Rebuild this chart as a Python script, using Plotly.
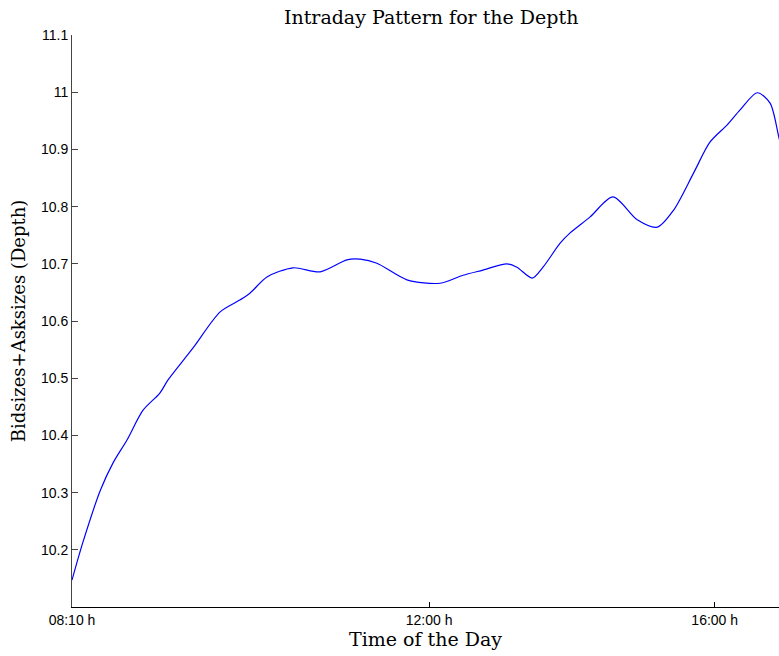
import plotly.graph_objects as go

# sample index (time axis, nonlinear clock mapping handled by tick labels)
x_idx = [0, 3, 8, 11.5, 15.4, 19.9, 24.6, 26.9, 33.9, 41.5, 47.1, 49.9, 54.6, 61.9,
         69.5, 77.0, 80.7, 85.4, 93.8, 103.1, 109.5, 115.1, 121.8, 124.6, 128.9,
         131.9, 136.7, 139.5, 145.1, 151.5, 158.3, 163.9, 168.5, 174.1, 178.7,
         183.5, 187.1, 191.9, 195.5, 198.0, 200.0]
depth = [10.147, 10.212, 10.305, 10.352, 10.392, 10.444, 10.474, 10.497, 10.553,
         10.616, 10.637, 10.649, 10.677, 10.693, 10.686, 10.707, 10.708, 10.701,
         10.672, 10.666, 10.680, 10.689, 10.700, 10.694, 10.675, 10.694, 10.736,
         10.754, 10.782, 10.817, 10.777, 10.764, 10.794, 10.859, 10.913, 10.943,
         10.969, 10.999, 10.981, 10.920, 10.870]

x_tick_vals = [0, 100, 180]
x_tick_text = ["08:10 h", "12:00 h", "16:00 h"]
y_tick_vals = [10.2, 10.3, 10.4, 10.5, 10.6, 10.7, 10.8, 10.9, 11.0, 11.1]
y_tick_text = ["10.2", "10.3", "10.4", "10.5", "10.6", "10.7", "10.8", "10.9", "11", "11.1"]

fig = go.Figure()
fig.add_trace(go.Scatter(x=x_idx, y=depth, mode="lines",
                         line=dict(color="#0000ff", width=1.2, shape="spline", smoothing=0.8),
                         hoverinfo="skip", showlegend=False))

serif = "DejaVu Serif, Liberation Serif, serif"
sans = "Liberation Sans, Arial, sans-serif"

fig.update_layout(
    width=779, height=656,
    margin=dict(l=72, r=0, t=35, b=49),
    plot_bgcolor="white", paper_bgcolor="white",
    title=dict(text="Intraday Pattern for the Depth", x=0.508, xref="paper", xanchor="center",
               y=1 - 17 / 656, yref="container", yanchor="middle",
               font=dict(family=serif, size=19, color="black")),
    xaxis=dict(range=[0, 198], tickvals=x_tick_vals, ticktext=x_tick_text,
               ticks="inside", ticklen=5, tickcolor="black", showgrid=False, zeroline=False,
               showline=True, linecolor="black", linewidth=1,
               tickfont=dict(family=sans, size=14, color="black"),
               title=dict(text="Time of the Day", font=dict(family=serif, size=19, color="black"),
                          standoff=1)),
    yaxis=dict(range=[10.1, 11.1], tickvals=y_tick_vals, ticktext=y_tick_text,
               ticks="inside", ticklen=6, tickcolor="#444", showgrid=False, zeroline=False,
               showline=True, linecolor="#444", linewidth=1,
               tickfont=dict(family=sans, size=14, color="black"),
               title=dict(text="Bidsizes+Asksizes (Depth)", font=dict(family=serif, size=18, color="black"),
                          standoff=10)),
)

fig.write_html("out.html", config={"displayModeBar": False},
               post_script="document.body.style.margin='0';")
